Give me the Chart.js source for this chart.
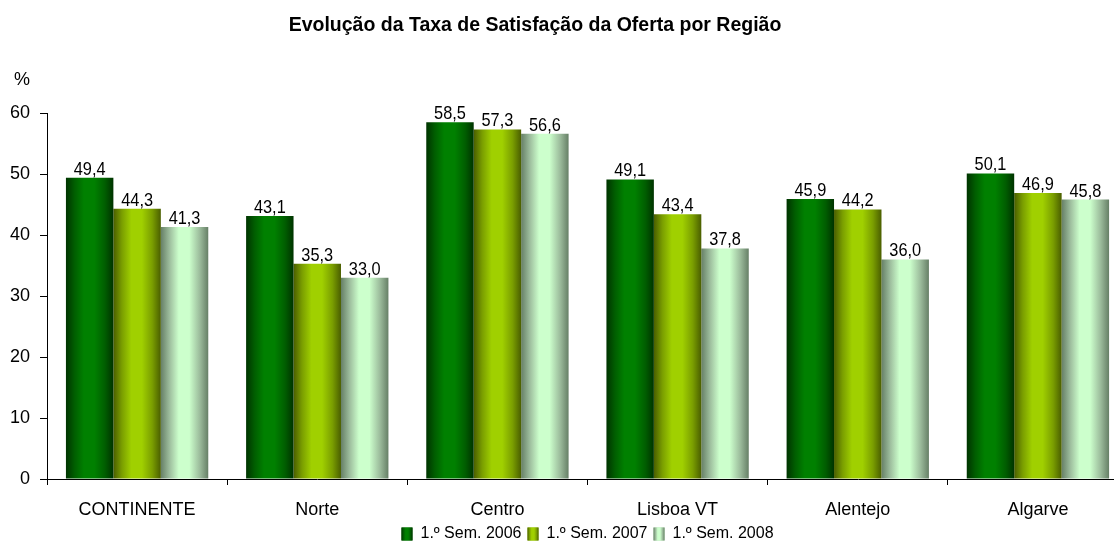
<!DOCTYPE html>
<html>
<head>
<meta charset="utf-8">
<script src="https://cdn.jsdelivr.net/npm/chart.js@4.4.0/dist/chart.umd.min.js"></script>
<style>
html,body{margin:0;padding:0;background:#fff;overflow:hidden;}
#wrap{width:1114px;height:542px;overflow:hidden;}
</style>
</head>
<body>
<div id="wrap"><canvas id="c" width="1128" height="542"></canvas></div>
<script>
const categories = ["CONTINENTE", "Norte", "Centro", "Lisboa VT", "Alentejo", "Algarve"];
const seriesNames = ["1.º Sem. 2006", "1.º Sem. 2007", "1.º Sem. 2008"];
const sem2006 = [49.4, 43.1, 58.5, 49.1, 45.9, 50.1];
const sem2007 = [44.3, 35.3, 57.3, 43.4, 44.2, 46.9];
const sem2008 = [41.3, 33.0, 56.6, 37.8, 36.0, 45.8];
const yTicks = [0, 10, 20, 30, 40, 50, 60];
const chartTitle = 'Evolução da Taxa de Satisfação da Oferta por Região';
const unitLabel = '%';

const FONT = "'Liberation Sans', Arial, sans-serif";
const palettes = [
  {dark:'#003300', mid:'#005e00', light:'#008000', solid:'#006600'},
  {dark:'#4a5e00', mid:'#7a9e00', light:'#a0d000', solid:'#8cb800'},
  {dark:'#667f66', mid:'#9cbc9c', light:'#ccffcc', solid:'#a8d8a8'}
];

function makeGrad(ctx, x0, x1, p) {
  const g = ctx.createLinearGradient(x0, 0, x1, 0);
  g.addColorStop(0, p.dark);
  g.addColorStop(0.18, p.mid);
  g.addColorStop(0.38, p.light);
  g.addColorStop(0.6, p.light);
  g.addColorStop(0.82, p.mid);
  g.addColorStop(1, p.dark);
  return g;
}

const gradientPlugin = {
  id: 'gradBars',
  beforeDatasetsDraw(chart) {
    const ctx = chart.ctx;
    chart.data.datasets.forEach((ds, di) => {
      const meta = chart.getDatasetMeta(di);
      const p = palettes[di];
      meta.data.forEach(el => {
        const g = makeGrad(ctx, el.x - el.width / 2, el.x + el.width / 2, p);
        el.options = Object.assign({}, el.options, {backgroundColor: g});
      });
    });
  },
  afterDatasetsDraw(chart) {
    const ctx = chart.ctx;
    chart.data.datasets.forEach((ds, di) => {
      const meta = chart.getDatasetMeta(di);
      meta.data.forEach((el, i) => {
        const v = ds.data[i].toFixed(1).replace('.', ',');
        ctx.save();
        ctx.font = '19px ' + FONT;
        ctx.fillStyle = '#000';
        ctx.textAlign = 'center';
        ctx.textBaseline = 'alphabetic';
        ctx.translate(el.x, el.y - 3);
        ctx.scale(0.86, 1);
        ctx.fillText(v, 0, 0);
        ctx.restore();
      });
    });
  },
  afterDraw(chart) {
    const ctx = chart.ctx;
    ctx.save();
    // gradient legend swatches over the library's legend boxes
    const lg = chart.legend;
    if (lg && lg.legendHitBoxes) {
      lg.legendHitBoxes.forEach((hb, i) => {
        const bw = 11, bh = 13;
        const y = hb.top + (hb.height - bh) / 2;
        ctx.fillStyle = makeGrad(ctx, hb.left, hb.left + bw, palettes[i]);
        ctx.fillRect(hb.left, y, bw, bh);
      });
    }
    ctx.fillStyle = '#000';
    ctx.textAlign = 'center';
    ctx.textBaseline = 'alphabetic';
    ctx.font = 'bold 19.5px ' + FONT;
    ctx.fillText(chartTitle, 535, 31);
    ctx.font = '18px ' + FONT;
    ctx.fillText(unitLabel, 22, 85);
    ctx.restore();
  }
};

new Chart(document.getElementById('c'), {
  type: 'bar',
  data: {
    labels: categories,
    datasets: [
      {label: seriesNames[0], data: sem2006, backgroundColor: palettes[0].solid},
      {label: seriesNames[1], data: sem2007, backgroundColor: palettes[1].solid},
      {label: seriesNames[2], data: sem2008, backgroundColor: palettes[2].solid}
    ]
  },
  options: {
    responsive: false,
    animation: false,
    devicePixelRatio: 1,
    layout: {padding: {left: 0, right: 0, top: 113, bottom: -10}},
    datasets: {bar: {categoryPercentage: 0.79, barPercentage: 1.0}},
    plugins: {
      title: {display: false},
      legend: {
        position: 'bottom',
        fullSize: false,
        labels: {
          color: '#000',
          font: {family: FONT, size: 16},
          boxWidth: 11,
          boxHeight: 13,
          padding: 6
        }
      },
      tooltip: {enabled: false}
    },
    scales: {
      x: {
        afterFit(scale) { scale.height = 41; },
        grid: {display: true, drawOnChartArea: false, drawTicks: true, tickLength: 6, color: '#000', offset: true},
        border: {display: true, color: '#000'},
        ticks: {color: '#000', font: {family: FONT, size: 18, lineHeight: 1}, padding: 16}
      },
      y: {
        min: 0, max: 60,
        afterBuildTicks(scale) { scale.ticks = yTicks.map(v => ({value: v})); },
        grid: {display: true, drawOnChartArea: false, drawTicks: true, tickLength: 7, color: '#000'},
        border: {display: true, color: '#000'},
        ticks: {color: '#000', font: {family: FONT, size: 18}, padding: 10}
      }
    }
  },
  plugins: [gradientPlugin]
});
</script>
</body>
</html>
